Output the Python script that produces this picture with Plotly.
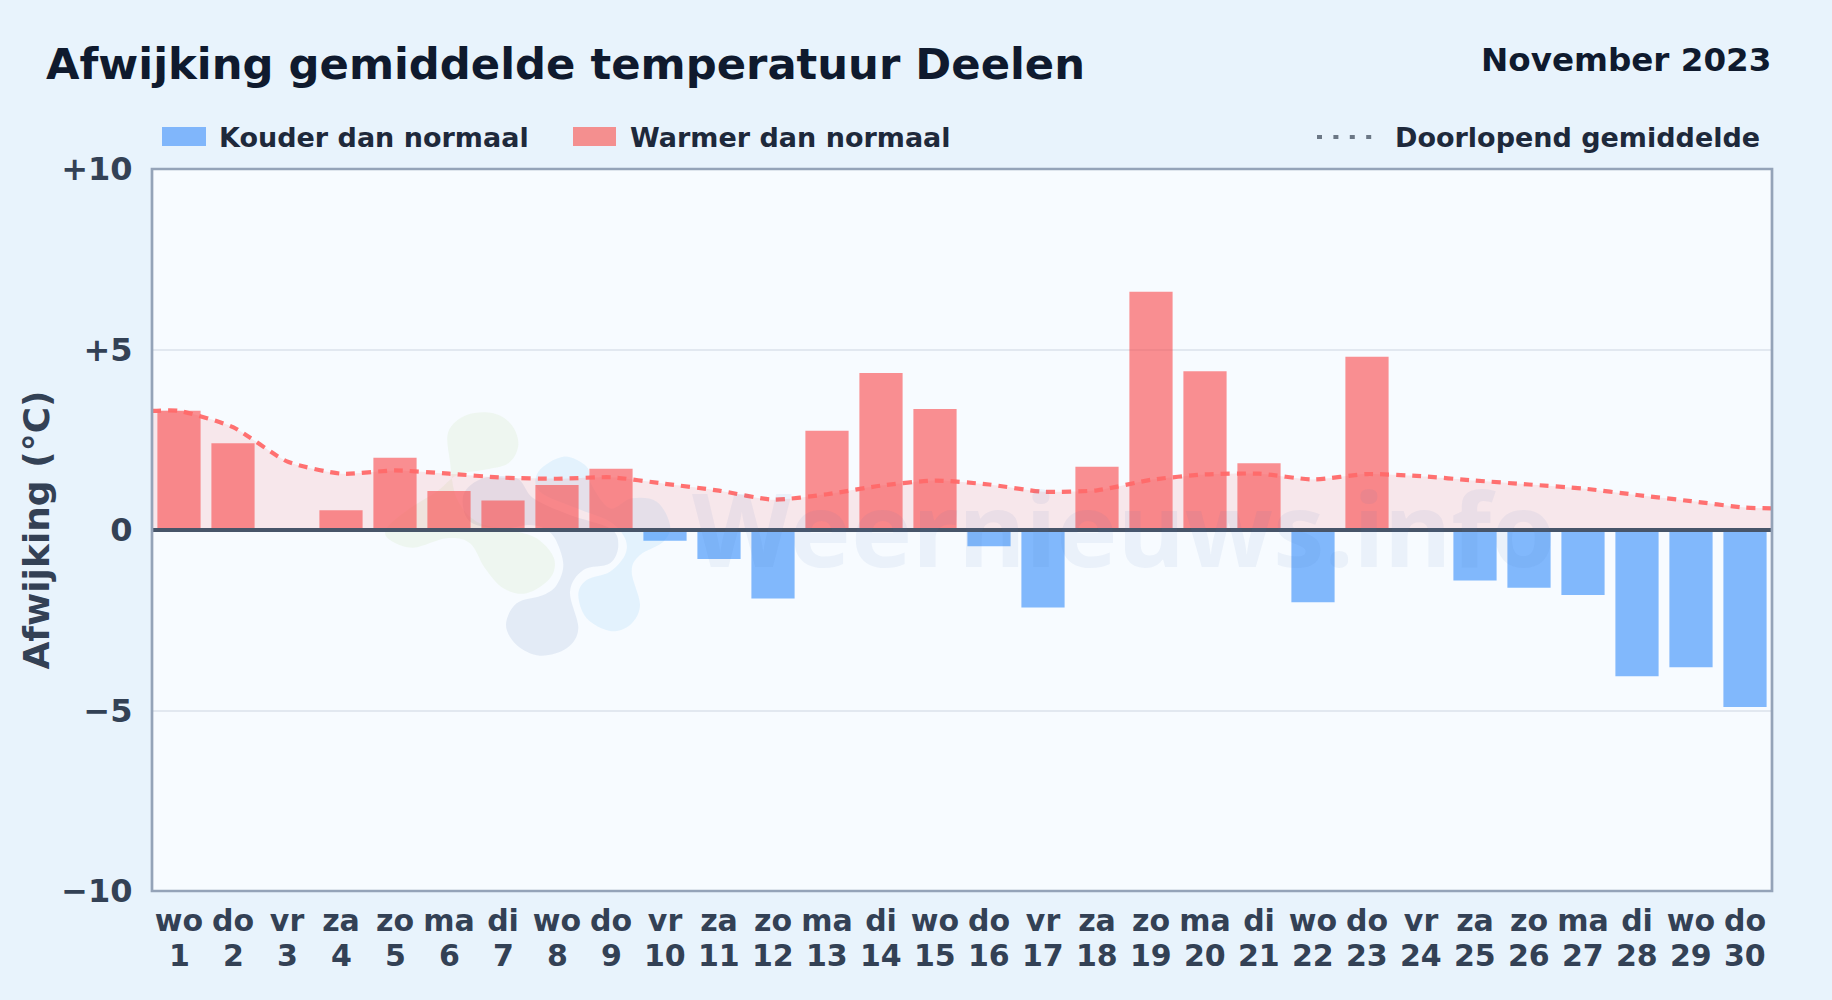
import plotly.graph_objects as go

days = list(range(1, 31))
weekdays = ["wo","do","vr","za","zo","ma","di","wo","do","vr","za","zo","ma","di","wo","do","vr","za","zo","ma","di","wo","do","vr","za","zo","ma","di","wo","do"]
deviation = [3.3,2.4,0.0,0.55,2.0,1.08,0.82,1.25,1.7,-0.3,-0.8,-1.9,2.75,4.35,3.35,-0.45,-2.15,1.75,6.6,4.4,1.85,-2.0,4.8,0.0,-1.4,-1.6,-1.8,-4.05,-3.8,-4.9]
running_x = [0.5]+days+[30.5]
running_mean = [3.3,3.3,2.85,1.9,1.56,1.65,1.56,1.45,1.42,1.46,1.28,1.09,0.84,0.99,1.23,1.37,1.26,1.06,1.1,1.39,1.54,1.56,1.4,1.55,1.49,1.37,1.26,1.15,0.97,0.8,0.62,0.6]
y_ticks = [-10,-5,0,5,10]
y_labels = ["−10","−5","0","+5","+10"]
title = "Afwijking gemiddelde temperatuur Deelen"
period = "November 2023"

W,H = 1832,1000
L,R,T,B = 152,1772,169,891
FONT = "DejaVu Sans"
px = lambda x: (x-L)/(R-L)
py = lambda y: (B-y)/(B-T)

def blob(points):
    # closed smooth watermark outline; points are read in a 3x crop starting at (370,395)
    pts=[(px(370+a/3),py(395+b/3)) for a,b in points]
    n=len(pts)
    d=f"M{pts[0][0]},{pts[0][1]}"
    for i in range(n):
        p0,p1,p2,p3=pts[i-1],pts[i],pts[(i+1)%n],pts[(i+2)%n]
        c1=(p1[0]+(p2[0]-p0[0])/6,p1[1]+(p2[1]-p0[1])/6)
        c2=(p2[0]-(p3[0]-p1[0])/6,p2[1]-(p3[1]-p1[1])/6)
        d+=f" C{c1[0]},{c1[1]} {c2[0]},{c2[1]} {p2[0]},{p2[1]}"
    return d+" Z"

green=[(235,110),(290,60),(370,55),(425,90),(445,150),(415,205),(340,225),(262,240),(200,290),(120,340),(50,400),(60,435),(130,458),(230,430),(300,445),(345,520),(400,580),(470,595),(540,550),(552,490),(500,430),(420,405),(320,380),(260,310),(240,200)]
navy=[(300,380),(280,300),(340,250),(440,250),(490,310),(600,360),(720,400),(745,450),(720,505),(640,525),(600,590),(625,700),(590,760),(510,782),(440,750),(408,690),(440,625),(520,600),(560,570),(580,510),(560,440),(530,405),(480,390),(400,400)]
sky=[(505,230),(580,185),(650,215),(665,270),(720,340),(785,310),(860,320),(900,390),(880,440),(810,480),(785,530),(810,630),(780,690),(720,708),(650,670),(625,600),(650,555),(720,530),(765,480),(765,430),(720,380),(620,340),(510,290)]

shapes=[
 dict(type="path",path=blob(green),xref="paper",yref="paper",fillcolor="rgba(170,210,110,0.10)",line_width=0,layer="below"),
 dict(type="path",path=blob(sky),xref="paper",yref="paper",fillcolor="rgba(90,185,240,0.13)",line_width=0,layer="below"),
 dict(type="path",path=blob(navy),xref="paper",yref="paper",fillcolor="rgba(60,100,170,0.10)",line_width=0,layer="below"),
 dict(type="line",xref="paper",x0=0,x1=1,yref="y",y0=0,y1=0,line=dict(color="#475569",width=4),layer="above"),
 dict(type="rect",xref="paper",yref="paper",x0=0,x1=1,y0=0,y1=1,line=dict(color="#94a3b8",width=2.7),layer="above"),
 dict(type="rect",xref="paper",yref="paper",x0=px(162),x1=px(206),y0=py(127),y1=py(146),fillcolor="#80b6fb",line_width=0),
 dict(type="rect",xref="paper",yref="paper",x0=px(573),x1=px(616),y0=py(127),y1=py(146),fillcolor="#f48f8f",line_width=0),
 dict(type="line",xref="paper",yref="paper",x0=px(1317),x1=px(1374),y0=py(137),y1=py(137),line=dict(color="#6b7785",width=4,dash="5px,11.4px")),
]

def note(text,x,y,size,color,xanchor="left",**kw):
    return dict(text=f"<b>{text}</b>",x=px(x),y=py(y),xref="paper",yref="paper",showarrow=False,xanchor=xanchor,yanchor="middle",font=dict(family=FONT,size=size,color=color),**kw)

annotations=[
 dict(text="<b>Weernieuws.info</b>",x=px(1124),y=py(527),xref="paper",yref="paper",showarrow=False,xanchor="center",yanchor="middle",font=dict(family="Noto Sans",size=103,color="rgba(70,120,190,0.07)")),
 note(title,44,64,43.3,"#0f1a2e"),
 note(period,1773,60,32.6,"#0f1a2e",xanchor="right"),
 note("Kouder dan normaal",217,137,27,"#1e293b"),
 note("Warmer dan normaal",628,137,27,"#1e293b"),
 note("Doorlopend gemiddelde",1762,137,27,"#1e293b",xanchor="right"),
]
for d in days:
    annotations.append(dict(text=f"<b>{d}</b>",x=d,xref="x",y=py(956),yref="paper",showarrow=False,xanchor="center",yanchor="middle",font=dict(family=FONT,size=30,color="#334155")))

cold=[v if v<0 else None for v in deviation]
warm=[v if v>0 else None for v in deviation]

fig=go.Figure()
fig.add_bar(x=days,y=cold,name="Kouder dan normaal",marker=dict(color="rgba(50,140,250,0.6)",line_width=0),width=0.8)
fig.add_bar(x=days,y=warm,name="Warmer dan normaal",marker=dict(color="rgba(250,70,72,0.6)",line_width=0),width=0.8)
fig.add_scatter(x=running_x,y=running_mean,name="Doorlopend gemiddelde",mode="lines",fill="tozeroy",fillcolor="rgba(250,90,90,0.12)",
                line=dict(color="rgba(255,105,105,0.95)",width=4.2,dash="9px,7px",shape="spline",smoothing=0.6))
fig.update_layout(
 width=W,height=H,margin=dict(l=L,r=W-R,t=T,b=H-B),autosize=False,
 paper_bgcolor="#e8f3fc",plot_bgcolor="#f7fbff",showlegend=False,barmode="overlay",
 font=dict(family=FONT),shapes=shapes,annotations=annotations,
 xaxis=dict(range=[0.5,30.5],tickmode="array",tickvals=days,ticktext=[f"<b>{w}</b>" for w in weekdays],
            tickfont=dict(size=30,color="#334155",family=FONT),showgrid=False,zeroline=False,ticks="outside",ticklen=3,tickcolor="rgba(0,0,0,0)",tickangle=0,showline=False),
 yaxis=dict(range=[-10,10],tickmode="array",tickvals=y_ticks,ticktext=[f"<b>{t}</b>" for t in y_labels],
            tickfont=dict(size=32,color="#334155",family=FONT),showgrid=True,gridcolor="#e2e8f0",gridwidth=2,zeroline=False,ticks="outside",ticklen=12,tickcolor="rgba(0,0,0,0)",showline=False,
            title=dict(text="<b>Afwijking (°C)</b>",font=dict(size=36,color="#334155",family=FONT),standoff=0)),
)
fig.write_html("out.html",config={"displayModeBar":False},post_script="document.body.style.margin='0';document.body.style.overflow='hidden';")
